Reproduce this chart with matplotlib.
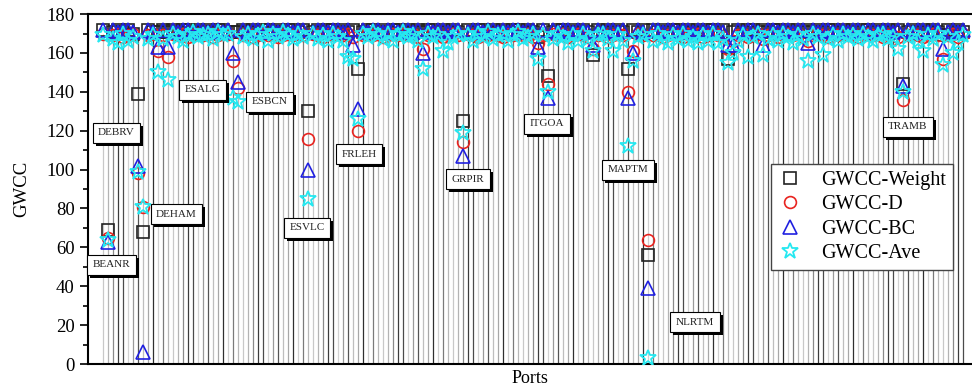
import numpy as np
import matplotlib.pyplot as plt
import matplotlib.patheffects as pe

plt.rcParams['font.family'] = ['Liberation Serif', 'DejaVu Serif']

# GWCC values of each port (port index 0..172)
gwcc_weight = [
    172, 69, 171, 172, 171, 172, 170, 139, 68, 172,
    171, 171, 172, 171, 172, 171, 172, 172, 171, 172,
    171, 172, 171, 172, 172, 171, 171, 171, 172, 171,
    172, 171, 172, 172, 171, 172, 171, 172, 172, 171,
    172, 130, 171, 172, 171, 172, 172, 171, 172, 171,
    172, 152, 171, 172, 172, 171, 172, 171, 172, 172,
    171, 172, 171, 172, 171, 172, 172, 171, 172, 171,
    172, 171, 125, 172, 171, 172, 172, 171, 172, 171,
    172, 171, 172, 172, 171, 172, 171, 168, 172, 148,
    171, 172, 172, 171, 172, 171, 172, 171, 159, 172,
    171, 172, 171, 172, 171, 152, 172, 171, 172, 56,
    172, 171, 172, 171, 172, 172, 171, 172, 171, 172,
    171, 172, 172, 171, 172, 157, 171, 172, 171, 172,
    172, 171, 172, 171, 172, 172, 171, 172, 171, 172,
    171, 172, 171, 172, 171, 172, 172, 171, 172, 171,
    172, 171, 172, 172, 171, 172, 171, 172, 171, 172,
    144, 171, 172, 171, 172, 171, 172, 171, 169, 172,
    171, 172, 171,
]
gwcc_d = [
    170, 65, 169, 170, 168, 169, 170, 98, 81, 169,
    170, 161, 169, 158, 170, 169, 170, 168, 169, 170,
    169, 170, 168, 169, 170, 170, 156, 142, 169, 170,
    168, 169, 170, 169, 170, 168, 169, 170, 169, 170,
    169, 116, 170, 169, 168, 170, 169, 170, 169, 170,
    168, 120, 169, 170, 169, 170, 168, 169, 170, 169,
    170, 169, 170, 168, 162, 169, 170, 169, 168, 169,
    170, 169, 114, 170, 169, 168, 170, 169, 170, 169,
    168, 170, 169, 170, 169, 170, 168, 165, 169, 144,
    170, 169, 170, 168, 169, 170, 169, 168, 162, 169,
    170, 168, 169, 170, 169, 140, 161, 170, 169, 64,
    169, 170, 168, 169, 170, 169, 168, 170, 169, 170,
    168, 169, 170, 169, 168, 162, 166, 169, 170, 168,
    169, 170, 167, 169, 170, 168, 169, 170, 169, 170,
    168, 166, 169, 170, 169, 168, 170, 169, 170, 169,
    170, 168, 169, 170, 169, 170, 168, 169, 167, 168,
    136, 169, 170, 169, 168, 169, 170, 169, 157, 169,
    170, 168, 170,
]
gwcc_bc = [
    172, 63, 172, 171, 172, 172, 171, 102, 6, 172,
    171, 163, 172, 163, 172, 171, 172, 172, 171, 172,
    172, 171, 172, 172, 171, 172, 160, 145, 172, 171,
    172, 172, 171, 172, 172, 171, 172, 172, 171, 172,
    172, 100, 171, 172, 172, 171, 172, 172, 171, 172,
    164, 131, 172, 171, 172, 172, 171, 172, 172, 171,
    172, 172, 171, 172, 160, 172, 171, 172, 172, 171,
    172, 172, 107, 171, 172, 172, 171, 172, 172, 171,
    172, 171, 172, 172, 171, 172, 172, 163, 172, 137,
    172, 171, 172, 172, 171, 172, 172, 171, 164, 172,
    171, 172, 172, 171, 172, 137, 160, 172, 171, 39,
    172, 172, 171, 172, 172, 171, 172, 172, 171, 172,
    172, 171, 172, 172, 171, 164, 164, 172, 171, 172,
    172, 171, 164, 172, 172, 171, 172, 172, 171, 172,
    172, 165, 172, 171, 172, 172, 171, 172, 172, 171,
    172, 172, 171, 172, 172, 171, 172, 172, 171, 172,
    143, 172, 171, 172, 172, 171, 172, 172, 162, 171,
    172, 171, 172,
]
gwcc_ave = [
    169, 64, 167, 165, 170, 166, 168, 99, 81, 167,
    169, 150, 167, 146, 170, 168, 166, 169, 171, 168,
    169, 170, 167, 171, 169, 170, 137, 135, 168, 170,
    167, 169, 171, 166, 170, 168, 171, 169, 167, 170,
    168, 85, 170, 167, 169, 166, 170, 168, 166, 158,
    157, 126, 170, 168, 171, 169, 167, 170, 166, 169,
    171, 168, 169, 166, 152, 170, 168, 169, 161, 165,
    168, 170, 119, 169, 166, 170, 168, 171, 167, 169,
    170, 166, 169, 171, 167, 168, 170, 157, 169, 140,
    167, 170, 168, 165, 169, 166, 170, 167, 161, 169,
    170, 167, 161, 169, 166, 112, 156, 168, 169, 3,
    166, 170, 167, 165, 169, 167, 170, 166, 168, 165,
    169, 166, 170, 165, 167, 155, 160, 166, 169, 158,
    168, 170, 159, 167, 169, 166, 170, 168, 165, 169,
    167, 156, 170, 168, 159, 167, 169, 166, 170, 168,
    169, 167, 170, 168, 166, 169, 170, 167, 168, 162,
    140, 168, 170, 166, 161, 169, 167, 170, 154, 168,
    160, 165, 169,
]

# labelled ports: name, label centre (port, GWCC)
port_labels = [
    ('BEANR', 1.7, 51), ('DEBRV', 2.7, 119), ('DEHAM', 14.7, 77),
    ('ESALG', 19.9, 141), ('ESBCN', 33.3, 135), ('ESVLC', 40.8, 70),
    ('FRLEH', 51.2, 108), ('GRPIR', 73.0, 95), ('ITGOA', 88.8, 123.5),
    ('MAPTM', 105.0, 100), ('NLRTM', 118.4, 21.6), ('TRAMB', 161.0, 122),
]

ports = np.arange(len(gwcc_weight))
shades = ['#c8c8c8', '#b4b4b4', '#8a8a8a', '#3c3c3c', '#4a4a4a', '#d2d2d2',
          '#9a9a9a', '#555555', '#bebebe', '#a8a8a8', '#2e2e2e', '#cfcfcf',
          '#7a7a7a', '#b8b8b8']

fig = plt.figure(figsize=(9.72, 3.91), dpi=100)
ax = fig.add_axes([0.0905, 0.069, 0.9095, 0.895])

for i in ports:
    ax.vlines(i, 0, 170, color=shades[i % len(shades)], lw=0.9, zorder=1)

ax.plot(ports, gwcc_weight, ls='none', marker='s', ms=8.5, mfc='none',
        mec='#222222', mew=1.2, label='GWCC-Weight', zorder=3)
ax.plot(ports, gwcc_d, ls='none', marker='o', ms=8.5, mfc='none',
        mec='#e8231f', mew=1.2, label='GWCC-D', zorder=4)
ax.plot(ports, gwcc_bc, ls='none', marker='^', ms=10, mfc='none',
        mec='#2020e0', mew=1.2, label='GWCC-BC', zorder=5)
ax.plot(ports, gwcc_ave, ls='none', marker='*', ms=12, mfc='none',
        mec='#25e8f0', mew=1.3, label='GWCC-Ave', zorder=6)

# boxed port names with a drop shadow
for name, x, y in port_labels:
    t = ax.text(x, y, name, fontsize=8, ha='center', va='center',
                color='#222222', zorder=8,
                bbox=dict(boxstyle='square,pad=0.5', fc='white', ec='black', lw=0.8))
    t.get_bbox_patch().set_path_effects([
        pe.withSimplePatchShadow(offset=(2.2, -2.2), shadow_rgbFace='black', alpha=1.0)])

ax.set_xlim(-3, 173.8)
ax.set_ylim(0, 180)
ax.set_yticks(np.arange(0, 181, 20))
ax.set_yticks(np.arange(0, 181, 10), minor=True)
ax.tick_params(axis='y', which='major', direction='out', length=6, width=1.2,
               labelsize=13.5)
ax.tick_params(axis='y', which='minor', direction='out', length=3.5, width=1.2)
ax.set_xticks([])
for s in ['left', 'bottom', 'top']:
    ax.spines[s].set_linewidth(1.5)
ax.spines['right'].set_visible(False)

ax.set_xlabel('Ports', fontsize=13, labelpad=4)
ax.set_ylabel('GWCC', fontsize=13.5, labelpad=12)

leg = ax.legend(loc='upper left', bbox_to_anchor=(0.773, 0.571), fontsize=14.5,
                frameon=True, fancybox=False, framealpha=1, edgecolor='#444444',
                handlelength=1.2, handletextpad=0.9, borderpad=0.35,
                labelspacing=0.25, borderaxespad=0)
leg.get_frame().set_linewidth(1.0)
leg.set_zorder(10)

fig.savefig('out.png', dpi=100)
